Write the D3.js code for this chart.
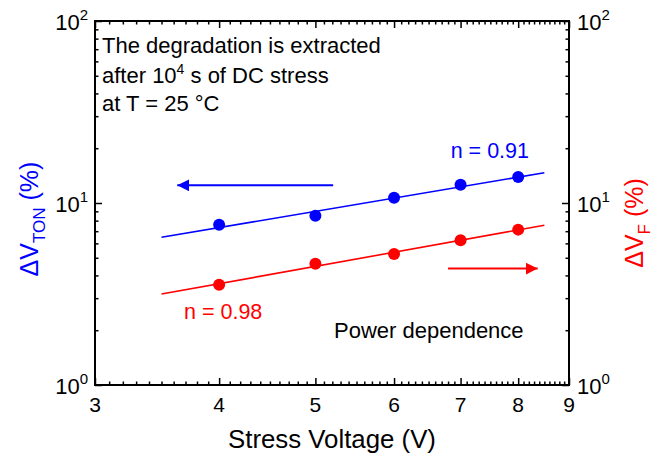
<!DOCTYPE html>
<html>
<head>
<meta charset="utf-8">
<script src="https://cdn.jsdelivr.net/npm/d3@7"></script>
<style>
  body { margin: 0; background: #fff; }
  svg { display: block; font-family: "Liberation Sans", Arial, sans-serif; }
</style>
</head>
<body>
<div class="wrapper"></div>
<script>
// stress voltages (V)
var voltage = [4, 5, 6, 7, 8];
// degradation in % after 1e4 s DC stress
var dVton = [7.6, 8.5, 10.7, 12.6, 13.9];
var dVf = [3.56, 4.64, 5.25, 6.24, 7.14];
// power-law fit lines, end points [V, %]
var fitTon = [[3.5, 6.48], [8.5, 14.67]];
var fitF = [[3.5, 3.16], [8.5, 7.55]];
// arrows pointing to each series' axis [V, %]
var arrowTon = [[5.21, 12.5], [3.63, 12.5]];
var arrowF = [[6.8, 4.36], [8.37, 4.36]];
var xTicks = [3, 4, 5, 6, 7, 8, 9];
var yTicks = [1, 10, 100];

var w = 656, h = 457,
    margin = {top: 21, right: 87, bottom: 72, left: 95},
    iw = w - margin.left - margin.right,
    ih = h - margin.top - margin.bottom;

var blue = "#0000ff", red = "#ff0000";

var svg = d3.select(".wrapper").append("svg")
    .attr("width", w)
    .attr("height", h);

var defs = svg.append("defs");
[["headBlue", blue], ["headRed", red]].forEach(function(m) {
  defs.append("marker")
      .attr("id", m[0])
      .attr("viewBox", "0 0 10 10")
      .attr("refX", 10).attr("refY", 5)
      .attr("markerWidth", 6).attr("markerHeight", 6)
      .attr("markerUnits", "strokeWidth")
      .attr("orient", "auto")
    .append("path")
      .attr("d", "M0,0L10,5L0,10z")
      .attr("fill", m[1]);
});

var g = svg.append("g").attr("transform", "translate(" + margin.left + "," + margin.top + ")");

var x = d3.scaleLog().domain([3, 9]).range([0, iw]);
var y = d3.scaleLog().domain([1, 100]).range([ih, 0]);

// minor ticks
var xMinor = d3.range(30, 91).map(function(d) { return d / 10; }).filter(function(d) { return Math.abs(d - Math.round(d)) > 1e-6; });
var yMinor = [];
[1, 10].forEach(function(dec) { for (var k = 2; k <= 9; k++) yMinor.push(dec * k); });

function tickAxis(axis, scale, ticks, len) {
  return axis(scale).tickValues(ticks).tickSize(len).tickFormat("");
}

var axes = g.append("g").attr("class", "axes");
// bottom/top, ticks pointing inward
[[d3.axisTop, ih], [d3.axisBottom, 0]].forEach(function(a) {
  axes.append("g").attr("transform", "translate(0," + a[1] + ")").call(tickAxis(a[0], x, xTicks, 7));
  axes.append("g").attr("transform", "translate(0," + a[1] + ")").call(tickAxis(a[0], x, xMinor, 3.5));
});
// left/right
[[d3.axisRight, 0], [d3.axisLeft, iw]].forEach(function(a) {
  axes.append("g").attr("transform", "translate(" + a[1] + ",0)").call(tickAxis(a[0], y, yTicks, 7));
  axes.append("g").attr("transform", "translate(" + a[1] + ",0)").call(tickAxis(a[0], y, yMinor, 3.5));
});
axes.selectAll(".domain").remove();
axes.selectAll(".tick line").attr("stroke", "#000").attr("stroke-width", 1.5);

g.append("rect")
    .attr("width", iw).attr("height", ih)
    .attr("fill", "none").attr("stroke", "#000").attr("stroke-width", 2);

// tick labels
g.selectAll(".xlab").data(xTicks).enter().append("text")
    .attr("x", function(d) { return x(d); })
    .attr("y", ih + 27)
    .attr("text-anchor", "middle")
    .attr("font-size", 21)
    .text(function(d) { return d; });

function powLabel(sel, anchorX, anchor) {
  sel.each(function(d) {
    var t = d3.select(this)
        .attr("x", anchorX)
        .attr("y", y(d) + 9)
        .attr("text-anchor", anchor)
        .attr("font-size", 22);
    t.append("tspan").text("10");
    t.append("tspan").attr("dy", -10).attr("font-size", 15).text(Math.round(Math.log10(d)));
  });
}
g.selectAll(".ylabL").data(yTicks).enter().append("text").call(powLabel, -7, "end");
g.selectAll(".ylabR").data(yTicks).enter().append("text").call(powLabel, iw + 8, "start");

// axis titles
g.append("text")
    .attr("x", iw / 2).attr("y", ih + 63)
    .attr("text-anchor", "middle")
    .attr("font-size", 25.8)
    .text("Stress Voltage (V)");

var yl = g.append("text")
    .attr("transform", "translate(-57," + (y(10) + 16) + ") rotate(-90)")
    .attr("text-anchor", "middle")
    .attr("font-size", 25)
    .attr("fill", blue);
yl.append("tspan").text("\u0394V");
yl.append("tspan").attr("dy", 7).attr("font-size", 17).text("TON");
yl.append("tspan").attr("dy", -7).text(" (%)");

var yr = g.append("text")
    .attr("transform", "translate(" + (iw + 74) + "," + (y(10) + 20) + ") rotate(-90)")
    .attr("text-anchor", "middle")
    .attr("font-size", 25)
    .attr("fill", red);
yr.append("tspan").text("\u0394V");
yr.append("tspan").attr("dy", 7).attr("font-size", 17).text("F");
yr.append("tspan").attr("dy", -7).text(" (%)");

// fit lines
var line = d3.line().x(function(d) { return x(d[0]); }).y(function(d) { return y(d[1]); });
g.append("path").datum(fitTon).attr("d", line).attr("fill", "none").attr("stroke", blue).attr("stroke-width", 1.6);
g.append("path").datum(fitF).attr("d", line).attr("fill", "none").attr("stroke", red).attr("stroke-width", 1.6);

// points
g.selectAll(".pTon").data(voltage).enter().append("circle")
    .attr("cx", function(d) { return x(d); })
    .attr("cy", function(d, i) { return y(dVton[i]); })
    .attr("r", 6).attr("fill", blue);
g.selectAll(".pF").data(voltage).enter().append("circle")
    .attr("cx", function(d) { return x(d); })
    .attr("cy", function(d, i) { return y(dVf[i]); })
    .attr("r", 6).attr("fill", red);

// arrows
g.append("path").datum(arrowTon).attr("d", line).attr("stroke", blue).attr("stroke-width", 2).attr("marker-end", "url(#headBlue)");
g.append("path").datum(arrowF).attr("d", line).attr("stroke", red).attr("stroke-width", 2).attr("marker-end", "url(#headRed)");

// annotations
g.append("text").attr("x", 450.7 - margin.left).attr("y", 158 - margin.top)
    .attr("font-size", 21.5).attr("fill", blue).text("n = 0.91");
g.append("text").attr("x", 184 - margin.left).attr("y", 319 - margin.top)
    .attr("font-size", 21.5).attr("fill", red).text("n = 0.98");
g.append("text").attr("x", 334 - margin.left).attr("y", 338 - margin.top)
    .attr("font-size", 22).text("Power dependence");

var note = g.append("g").attr("font-size", 22);
note.append("text").attr("x", 7).attr("y", 32).text("The degradation is extracted");
var l2 = note.append("text").attr("x", 7).attr("y", 62);
l2.append("tspan").text("after 10");
l2.append("tspan").attr("dy", -9).attr("font-size", 14).text("4");
l2.append("tspan").attr("dy", 9).text(" s of DC stress");
note.append("text").attr("x", 7).attr("y", 90).text("at T = 25 \u00b0C");
</script>
</body>
</html>
